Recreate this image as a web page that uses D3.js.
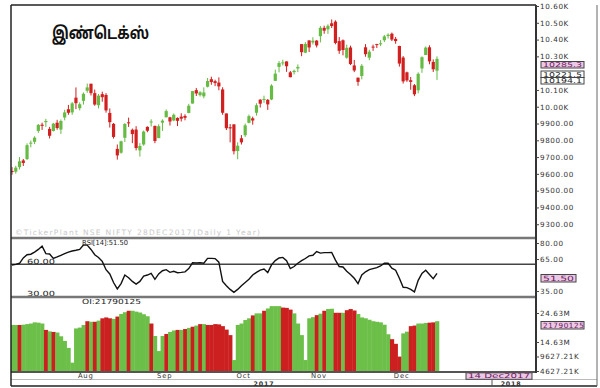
<!DOCTYPE html>
<html><head><meta charset="utf-8">
<script src="https://cdn.jsdelivr.net/npm/d3@7"></script>
<style>
html,body{margin:0;padding:0;background:#fff;}
svg{display:block;}
text{font-family:"DejaVu Sans","Liberation Sans",sans-serif;}
</style></head>
<body><svg id="c" width="600" height="388"></svg>
<script>
// ---------------- DATA ----------------
const title = "இண்டெக்ஸ்";
const dates = ["2017-07-04","2017-07-05","2017-07-06","2017-07-07","2017-07-10","2017-07-11","2017-07-12","2017-07-13","2017-07-14","2017-07-17","2017-07-18","2017-07-19","2017-07-20","2017-07-21","2017-07-24","2017-07-25","2017-07-26","2017-07-27","2017-07-28","2017-07-31",
"2017-08-01","2017-08-02","2017-08-03","2017-08-04","2017-08-07","2017-08-08","2017-08-09","2017-08-10","2017-08-11","2017-08-14","2017-08-16","2017-08-17","2017-08-18","2017-08-21","2017-08-22","2017-08-23","2017-08-24","2017-08-28","2017-08-29","2017-08-30","2017-08-31",
"2017-09-01","2017-09-04","2017-09-05","2017-09-06","2017-09-07","2017-09-08","2017-09-11","2017-09-12","2017-09-13","2017-09-14","2017-09-15","2017-09-18","2017-09-19","2017-09-20","2017-09-21","2017-09-22","2017-09-25","2017-09-26","2017-09-27","2017-09-28","2017-09-29",
"2017-10-03","2017-10-04","2017-10-05","2017-10-06","2017-10-09","2017-10-10","2017-10-11","2017-10-12","2017-10-13","2017-10-16","2017-10-17","2017-10-18","2017-10-19","2017-10-23","2017-10-24","2017-10-25","2017-10-26","2017-10-27","2017-10-30","2017-10-31",
"2017-11-01","2017-11-02","2017-11-03","2017-11-06","2017-11-07","2017-11-08","2017-11-09","2017-11-10","2017-11-13","2017-11-14","2017-11-15","2017-11-16","2017-11-17","2017-11-20","2017-11-21","2017-11-22","2017-11-23","2017-11-24","2017-11-27","2017-11-28","2017-11-29","2017-11-30",
"2017-12-01","2017-12-04","2017-12-05","2017-12-06","2017-12-07","2017-12-08","2017-12-11","2017-12-12","2017-12-13","2017-12-14"];
const open  = [9617,9613,9640,9680,9688,9781,9791,9856,9893,9908,9868,9855,9905,9864,9936,9985,9966,10054,9991,10035,
10095,10137,10081,10009,10075,10070,9963,9898,9749,9726,9815,9907,9863,9864,9740,9775,9880,9907,9886,9813,9905,
9937,9937,9918,9933,9941,9945,9963,10019,10099,10069,10062,10119,10164,10152,10144,10103,9960,9878,9895,9736,9812,
9830,9904,9931,9964,10042,10041,10041,10043,10154,10237,10263,10270,10205,10206,10228,10373,10322,10395,10383,10394,
10420,10470,10461,10497,10507,10391,10396,10292,10353,10246,10173,10183,10354,10292,10358,10373,10372,10396,10421,10435,10404,10362,
10293,10205,10158,10128,10098,10228,10308,10354,10267,10215];
const high  = [9640,9648,9700,9689,9782,9799,9824,9897,9905,9928,9880,9904,9922,9924,9982,10011,10028,10115,10026,10085,
10138,10137,10102,10076,10090,10081,9990,9903,9775,9798,9903,9935,9870,9884,9783,9858,9883,9925,9887,9895,9925,
9984,9940,9960,9937,9961,9955,10017,10094,10112,10093,10115,10171,10179,10161,10175,10116,9960,9897,9895,9788,9831,
9900,9953,9941,10021,10045,10066,10046,10134,10221,10272,10280,10270,10213,10221,10252,10373,10385,10396,10414,10397,
10481,10483,10491,10520,10515,10415,10401,10370,10364,10279,10174,10254,10373,10340,10370,10375,10397,10428,10437,10442,10416,10363,
10302,10209,10177,10135,10205,10300,10359,10366,10282,10300];
const low   = [9595,9601,9626,9647,9683,9758,9777,9844,9862,9880,9811,9853,9863,9838,9919,9952,9952,9986,9978,10013,
10083,10067,10006,9990,10030,9965,9876,9810,9685,9720,9790,9880,9783,9740,9703,9768,9848,9882,9783,9813,9856,
9937,9888,9914,9885,9912,9919,9961,10019,10064,10061,10050,10115,10131,10123,10098,9952,9861,9788,9716,9687,9775,
9820,9901,9893,9947,9995,10023,9981,10039,10154,10205,10245,10208,10175,10192,10206,10301,10319,10326,10371,10353,
10383,10435,10434,10469,10372,10315,10306,10286,10248,10206,10125,10163,10298,10277,10333,10350,10361,10385,10406,10391,10375,10239,
10138,10148,10101,10063,10080,10202,10308,10253,10207,10160];
const close = [9613,9637,9675,9665,9771,9786,9816,9892,9886,9915,9827,9899,9873,9915,9966,9964,10020,10021,10015,10077,
10115,10081,10013,10066,10057,9978,9908,9820,9710,9794,9897,9904,9837,9754,9766,9852,9857,9912,9796,9884,9917,
9974,9912,9952,9916,9929,9934,10006,10093,10079,10086,10085,10153,10147,10141,10121,9964,9872,9871,9735,9768,9788,
9889,9944,9918,10009,10018,10046,10014,10126,10197,10260,10264,10241,10176,10214,10237,10325,10374,10353,10393,10365,
10470,10453,10482,10481,10380,10333,10338,10351,10254,10216,10148,10244,10313,10328,10356,10372,10378,10419,10429,10400,10391,10257,
10151,10157,10148,10074,10196,10295,10352,10270,10223,10285.3];
const rsi = [59.4,60,61,66,69,69.5,71.5,74,77,70,69.7,65.6,67,68.5,70,71.5,72.5,73.2,74,78.1,
78,74,69,66.5,62.8,55,51,43,37,42,50,47.5,44,41.5,44,49,50,51.5,46,51,54,
55,52.5,53.5,52.2,52.5,53,56,61.5,61.2,61.5,61,65.6,65.6,65.4,62,44,40,36.5,33.8,36.5,40,
43,46,50,52.5,54.6,55.6,52.3,59.5,63.5,66,66.5,63.5,56,58,61,63.5,65.5,68,68.5,72,
70.5,71,71,71.2,64,58,57.5,53.5,50.5,47,42,50,53,55,56,56.9,58.5,61,61,56.5,54.5,47,
38.5,38.2,36.5,34.2,45,51.5,54.5,50.5,46.6,51.5];
// open interest in millions, and bar colour flag (1 = green, 0 = red)
const oi = [20.5,20.5,20.5,20.6,20.8,21.0,21.4,21.3,21.0,18.8,18.3,18.1,17.9,16.6,15.0,12.6,7.5,19.3,19.6,20.5,
21.8,21.6,21.6,22.0,22.8,23.1,22.8,22.6,23.4,24.3,24.9,25.4,25.4,25.1,24.8,24.2,23.5,21.0,16.7,11.5,16.7,
17.4,18.1,18.6,18.8,18.8,19.1,19.5,19.9,20.3,20.8,20.8,20.5,20.5,20.8,20.7,20.1,18.9,17.0,8.4,20.5,21.0,
22.2,22.8,23.8,24.5,24.5,25.4,26.2,27.0,27.0,27.0,26.5,26.4,25.8,24.5,21.0,17.0,8.4,22.8,23.2,23.9,
24.4,25.4,26.0,26.1,24.7,24.7,24.7,25.6,26.0,25.5,24.3,23.1,22.8,22.3,21.8,21.6,21.4,20.6,17.3,15.6,14.0,9.6,
17.6,18.2,20.1,20.3,21.0,21.0,21.2,21.3,21.4,21.8];
const oiUp = [1,1,0,1,1,1,1,1,1,0,1,0,1,1,1,1,1,1,1,1,
0,1,0,1,0,0,0,1,0,1,1,0,1,1,1,1,1,0,1,1,1,
0,1,1,0,1,0,1,0,1,0,1,0,0,0,0,0,0,0,1,1,1,
1,1,0,1,1,0,1,1,1,1,0,0,0,1,1,1,1,1,1,0,
1,0,1,1,0,0,1,0,0,0,1,1,1,1,1,1,1,1,1,0,0,0,
1,1,0,0,1,1,1,0,0,1];
const months = [{d:"2017-08-01",t:"Aug"},{d:"2017-09-01",t:"Sep"},{d:"2017-10-03",t:"Oct"},{d:"2017-11-01",t:"Nov"},{d:"2017-12-01",t:"Dec"}];
const priceTicks = [9300,9400,9500,9600,9700,9800,9900,10000,10100,10300,10400,10500,10600];
const rsiTicks = [35,65,80];
const oiTicks = [4.62721,9.62721,14.63,24.63];
const priceBoxes = ["10285.3","10221.5","10194.1"];
const rsiLabel = "RSI[14]:51.50", rsiLast = "51.50";
const oiLabel = "OI:21790125", oiLast = "21790125";
const watermark = "©TickerPlant NSE NIFTY 28DEC2017(Daily 1 Year)";
const dateBox = "14 Dec2017";
const years = [{x:"2017-10-10",t:"2017"},{t:"2018"}];

// ---------------- LAYOUT ----------------
const W=600,H=388;
const L=11, R=536, T=5;
const P1b=238, P2b=297, P3b=372, yearLine=379.5, B=386;
const green="#66bb44", red="#d21f1f", oiGreen="#6cbf48", oiRed="#cc2020";

const svg=d3.select("#c");
svg.append("rect").attr("width",W).attr("height",H).attr("fill","#fff");

const x=d3.scalePoint().domain(dates).range([12,437]);
const yP=d3.scaleLinear().domain([9218,10606]).range([P1b,T]);
const yR=d3.scaleLinear().domain([29.4,84.7]).range([P2b,P1b]);
const yO=d3.scaleLinear().domain([4.28,30.15]).range([P3b,P2b]);
const step=x.step();

const defs=svg.append("defs");
defs.append("clipPath").attr("id","cp1").append("rect").attr("x",L).attr("y",T).attr("width",R-L).attr("height",P1b-T);
defs.append("clipPath").attr("id","cp3").append("rect").attr("x",L).attr("y",P2b).attr("width",R-L).attr("height",P3b-P2b);

// title
svg.append("text").attr("x",52).attr("y",39).attr("font-size",17).attr("font-weight","bold")
  .attr("textLength",97).attr("lengthAdjust","spacingAndGlyphs")
  .style("font-family","'Noto Sans Tamil','Noto Sans','Latha',sans-serif").attr("fill","#111").text(title);

// watermark
svg.append("text").attr("x",15).attr("y",235).attr("font-size",7.5).attr("fill","#c9c9c9")
  .attr("textLength",245).attr("lengthAdjust","spacing").text(watermark);

// candles
const cd=dates.map((d,i)=>({d,o:open[i],h:high[i],l:low[i],c:close[i]}));
const cg=svg.append("g").attr("clip-path","url(#cp1)");
cg.selectAll("rect.wick").data(cd).join("rect").attr("class","wick")
  .attr("x",d=>x(d.d)-0.5).attr("width",1)
  .attr("y",d=>yP(d.h)).attr("height",d=>Math.max(1,yP(d.l)-yP(d.h)))
  .attr("fill",d=>d.c>=d.o?green:red);
cg.selectAll("rect.body").data(cd).join("rect").attr("class","body")
  .attr("x",d=>x(d.d)-1.6).attr("width",3.2)
  .attr("y",d=>yP(Math.max(d.o,d.c))).attr("height",d=>Math.max(1,Math.abs(yP(d.o)-yP(d.c))))
  .attr("fill",d=>d.c>=d.o?green:red);

// RSI
svg.append("line").attr("x1",L).attr("x2",R).attr("y1",yR(60)).attr("y2",yR(60)).attr("stroke","#444").attr("stroke-width",1.5);
svg.append("path").datum(dates.map((d,i)=>[x(d),yR(rsi[i])]))
  .attr("d",d3.line()).attr("fill","none").attr("stroke","#111").attr("stroke-width",1.4);
svg.append("text").attr("x",82).attr("y",245).attr("font-size",7).attr("fill","#222").attr("textLength",46).attr("lengthAdjust","spacingAndGlyphs").text(rsiLabel);
svg.append("text").attr("x",27).attr("y",264).attr("font-size",7).attr("fill","#222").attr("textLength",28).attr("lengthAdjust","spacingAndGlyphs").text("60.00");
svg.append("text").attr("x",27).attr("y",296).attr("font-size",7).attr("fill","#222").attr("textLength",28).attr("lengthAdjust","spacingAndGlyphs").text("30.00");

// OI bars
const og=svg.append("g").attr("clip-path","url(#cp3)");
og.selectAll("rect").data(dates).join("rect")
  .attr("x",d=>x(d)-step/2).attr("width",step+0.4)
  .attr("y",(d,i)=>yO(oi[i])).attr("height",(d,i)=>P3b-yO(oi[i]))
  .attr("fill",(d,i)=>oiUp[i]?oiGreen:oiRed);
svg.append("text").attr("x",82).attr("y",304).attr("font-size",7).attr("fill","#222").attr("textLength",59).attr("lengthAdjust","spacingAndGlyphs").text(oiLabel);

// panel lines
const ln=(x1,y1,x2,y2,c,w)=>svg.append("line").attr("x1",x1).attr("y1",y1).attr("x2",x2).attr("y2",y2).attr("stroke",c).attr("stroke-width",w);
ln(L,T,R,T,"#222",1.5);
ln(L,P1b,R,P1b,"#777",2.5);
ln(L,P2b,R,P2b,"#777",2.5);
ln(L,P3b,R,P3b,"#555",2);
ln(L,yearLine,597,yearLine,"#bbb",1);
ln(L,B,597,B,"#222",1.5);
ln(L,T,L,B,"#222",1.5);
ln(597,T,597,B,"#666",1);
ln(R,T,R,P3b+1,"#333",2);
ln(492,yearLine,492,B,"#555",1);

// right axes
const fmtP=v=>v>=10000?(v/1000).toFixed(2)+"K":v.toFixed(2);
const axP=svg.append("g").attr("transform",`translate(${R},0)`)
  .call(d3.axisRight(yP).tickValues(priceTicks).tickFormat(fmtP).tickSize(3).tickPadding(1));
const axR=svg.append("g").attr("transform",`translate(${R},0)`)
  .call(d3.axisRight(yR).tickValues(rsiTicks).tickFormat(d=>d.toFixed(2)).tickSize(3).tickPadding(1));
const fmtO=v=>v>=10?v.toFixed(2)+"M":(v*1000).toFixed(2)+"K";
const axO=svg.append("g").attr("transform",`translate(${R},0)`)
  .call(d3.axisRight(yO).tickValues(oiTicks).tickFormat(fmtO).tickSize(3).tickPadding(1));
[axP,axR,axO].forEach(a=>{
  a.select(".domain").remove();
  a.selectAll("line").attr("stroke","#444");
  a.selectAll("text").attr("font-size",7.2).attr("fill","#333").style("letter-spacing","0.6px")
   .style("font-family","'DejaVu Sans',sans-serif");
});

// value boxes
function box(xx,yy,w,h,txt,fill,tc,fs){
  svg.append("rect").attr("x",xx).attr("y",yy).attr("width",w).attr("height",h).attr("fill",fill).attr("stroke","#444").attr("stroke-width",1);
  svg.append("text").attr("x",xx+2).attr("y",yy+h-1).attr("font-size",fs||7.2).attr("fill",tc)
   .attr("textLength",w-4).attr("lengthAdjust","spacingAndGlyphs").text(txt);
}
box(541,61.5,43,6.5,priceBoxes[0],"#ecc8e6","#6a1a5a",6.6);
box(541,71,43,6.5,priceBoxes[1],"#fff","#222",6.6);
box(541,77.5,43,6.5,priceBoxes[2],"#fff","#222",6.6);
box(541,274.5,35,7.5,rsiLast,"#ecc8e6","#6a1a5a");
defs.append("clipPath").attr("id","cpo").append("rect").attr("x",541).attr("y",321).attr("width",43).attr("height",9);
const ob=svg.append("g");
ob.append("rect").attr("x",541).attr("y",321.5).attr("width",43).attr("height",7.5).attr("fill","#ecc8e6").attr("stroke","#444");
ob.append("text").attr("clip-path","url(#cpo)").attr("x",543).attr("y",328).attr("font-size",7.2).attr("fill","#6a1a5a").style("letter-spacing","0.6px").text(oiLast);

// x axis months
const xa=svg.append("g").attr("transform",`translate(0,${P3b})`)
  .call(d3.axisBottom(x).tickValues(months.map(m=>m.d)).tickFormat((d,i)=>months[i].t).tickSize(0).tickPadding(1.5));
xa.select(".domain").remove();
xa.selectAll("text").attr("font-size",6.8).attr("fill","#333").style("letter-spacing","0.8px").attr("dx",-2);
svg.append("text").attr("x",x(years[0].x)).attr("y",386).attr("font-size",6.3).attr("fill","#333").attr("text-anchor","middle").style("letter-spacing","0.8px").attr("font-weight","bold").text(years[0].t);
svg.append("text").attr("x",511).attr("y",386).attr("font-size",6.3).attr("fill","#333").attr("text-anchor","middle").style("letter-spacing","0.8px").attr("font-weight","bold").text(years[1].t);
box(466,372.8,66,6.5,dateBox,"#ecc8e6","#6a1a5a",6.6);
</script></body></html>
